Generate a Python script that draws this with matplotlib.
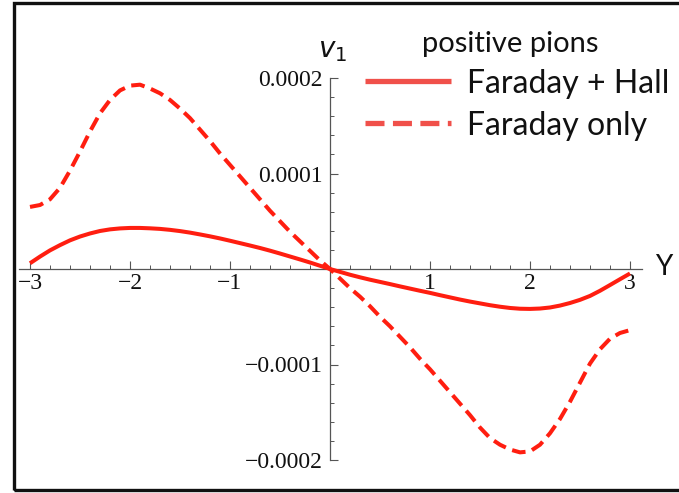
import matplotlib
matplotlib.use("Agg")
import matplotlib.pyplot as plt
from matplotlib.ticker import FixedLocator, FixedFormatter
from matplotlib.lines import Line2D
from matplotlib.patches import Rectangle

# Rapidity grid
rapidity = [-3.0, -2.9, -2.8, -2.7, -2.6, -2.5, -2.4, -2.3, -2.2, -2.1,
            -2.0, -1.9, -1.8, -1.7, -1.6, -1.5, -1.4, -1.3, -1.2, -1.1,
            -1.0, -0.9, -0.8, -0.7, -0.6, -0.5, -0.4, -0.3, -0.2, -0.1,
            0.0, 0.1, 0.2, 0.3, 0.4, 0.5, 0.6, 0.7, 0.8, 0.9,
            1.0, 1.1, 1.2, 1.3, 1.4, 1.5, 1.6, 1.7, 1.8, 1.9,
            2.0, 2.1, 2.2, 2.3, 2.4, 2.5, 2.6, 2.7, 2.8, 2.9, 3.0]

# Directed flow v1 of positive pions, Faraday + Hall (units of 1e-5)
v1_faraday_hall = [0.6, 1.3, 1.95, 2.5, 3.0, 3.4, 3.72, 3.98, 4.15, 4.25,
                   4.3, 4.3, 4.26, 4.2, 4.1, 3.97, 3.81, 3.62, 3.42, 3.2,
                   2.96, 2.71, 2.46, 2.2, 1.92, 1.62, 1.31, 1.0, 0.68, 0.34,
                   0.0, -0.3, -0.6, -0.87, -1.12, -1.35, -1.58, -1.82, -2.05, -2.28,
                   -2.5, -2.74, -2.97, -3.2, -3.41, -3.6, -3.79, -3.95, -4.08, -4.16,
                   -4.18, -4.14, -4.03, -3.83, -3.56, -3.23, -2.82, -2.28, -1.68, -1.07, -0.47]

# Directed flow v1 of positive pions, Faraday only (units of 1e-4)
v1_faraday_only = [0.65, 0.67, 0.73, 0.85, 1.03, 1.23, 1.44, 1.63, 1.77, 1.87,
                   1.92, 1.93, 1.89, 1.84, 1.77, 1.68, 1.58, 1.46, 1.34, 1.21,
                   1.09, 0.97, 0.85, 0.73, 0.61, 0.50, 0.39, 0.29, 0.19, 0.09,
                   0.00, -0.10, -0.20, -0.29, -0.39, -0.50, -0.60, -0.71, -0.82, -0.94,
                   -1.05, -1.17, -1.29, -1.41, -1.53, -1.66, -1.77, -1.84, -1.89, -1.92,
                   -1.91, -1.84, -1.72, -1.57, -1.39, -1.19, -0.99, -0.84, -0.73, -0.67, -0.64]

x_tick_values = [-3, -2, -1, 1, 2, 3]
x_tick_labels = ["\u22123", "\u22122", "\u22121", "1", "2", "3"]
y_tick_values = [-0.0002, -0.0001, 0.0001, 0.0002]
y_tick_labels = ["\u22120.0002", "\u22120.0001", "0.0001", "0.0002"]

legend_title = "positive pions"
series_names = ["Faraday + Hall", "Faraday only"]

W, H = 679, 493
plt.rcParams["mathtext.fontset"] = "dejavusans"
fig = plt.figure(figsize=(W / 100, H / 100), dpi=100)
fig.patch.set_facecolor("white")

# axes fill the canvas; limits chosen so the origin sits at (330, 269) px
x0_px, y0_px = 330.0, 269.0
x_scale = 100.0          # px per unit of Y
y_scale = 955000.0       # px per unit of v1
ax = fig.add_axes([0, 0, 1, 1])
ax.set_xlim(-x0_px / x_scale, (W - x0_px) / x_scale)
ax.set_ylim(-(H - y0_px) / y_scale, y0_px / y_scale)
ax.patch.set_alpha(0)

curve_color = "#FF1E10"
y_hall = [v * 1e-5 for v in v1_faraday_hall]
y_only = [v * 1e-4 for v in v1_faraday_only]
ax.plot(rapidity, y_hall, color=curve_color, lw=2.9, solid_capstyle="butt",
        solid_joinstyle="round", zorder=3)
ax.plot(rapidity, y_only, color=curve_color, lw=2.9, linestyle=(0, (3.4, 1.7)),
        dash_capstyle="butt", dash_joinstyle="round", zorder=3)

# Mathematica-style axes crossing at the origin
axis_color = "#555555"
for side in ("top", "right"):
    ax.spines[side].set_visible(False)
ax.spines["left"].set_position(("data", 0))
ax.spines["bottom"].set_position(("data", 0))
ax.spines["left"].set_bounds(-0.0002, 0.0002)
ax.spines["bottom"].set_bounds(-3.11, 3.12)
for side in ("left", "bottom"):
    ax.spines[side].set_color(axis_color)
    ax.spines[side].set_linewidth(0.9)
    ax.spines[side].set_zorder(2)

x_minor = [i / 5 for i in range(-15, 16) if i % 5 != 0]
y_minor = [i * 0.00002 for i in range(-10, 11) if i % 5 != 0]
ax.xaxis.set_major_locator(FixedLocator(x_tick_values))
ax.xaxis.set_major_formatter(FixedFormatter(x_tick_labels))
ax.xaxis.set_minor_locator(FixedLocator(x_minor))
ax.yaxis.set_major_locator(FixedLocator(y_tick_values))
ax.yaxis.set_major_formatter(FixedFormatter(y_tick_labels))
ax.yaxis.set_minor_locator(FixedLocator(y_minor))

tick_font = "Liberation Serif"
ax.tick_params(which="major", direction="in", length=6.0, width=0.8, color=axis_color)
ax.tick_params(which="minor", direction="in", length=3.2, width=0.7, color=axis_color)
ax.tick_params(axis="x", which="major", pad=3)
ax.tick_params(axis="y", which="major", pad=5)
for lab in ax.get_xticklabels() + ax.get_yticklabels():
    lab.set_fontfamily(tick_font)
    lab.set_fontsize(17)
    lab.set_color("#111111")

# axis names
fig.text(333 / W, 1 - 57 / H, r"$v_1$", fontsize=20, ha="center", va="baseline",
         color="#111111")
fig.text(664 / W, 1 - 275 / H, "Y", fontsize=20, family="Lato", ha="center",
         va="baseline", color="#111111")

# legend
leg_color = "#F0504A"
leg_font = "Lato"
fig.text(510 / W, 1 - 52 / H, legend_title, fontsize=21, family=leg_font,
         ha="center", va="baseline", color="#111111")
fig.add_artist(Line2D([365 / W, 451 / W], [1 - 80.5 / H, 1 - 80.5 / H],
                      transform=fig.transFigure, color=leg_color, lw=3.8,
                      solid_capstyle="butt"))
fig.add_artist(Line2D([365 / W, 451 / W], [1 - 123 / H, 1 - 123 / H],
                      transform=fig.transFigure, color=leg_color, lw=3.8,
                      linestyle=(0, (3.6, 1.6)), dash_capstyle="butt"))
fig.text(467 / W, 1 - 93 / H, series_names[0], fontsize=23, family=leg_font,
         ha="left", va="baseline", color="#111111")
fig.text(467 / W, 1 - 135 / H, series_names[1], fontsize=23, family=leg_font,
         ha="left", va="baseline", color="#111111")

# outer frame
fig.add_artist(Rectangle((14 / W, 1 - 490 / H), (W + 10 - 14) / W, (490 - 3) / H,
                         transform=fig.transFigure, fill=False,
                         edgecolor="#111111", lw=2.4, clip_on=False))

fig.savefig("out.png", dpi=100)
